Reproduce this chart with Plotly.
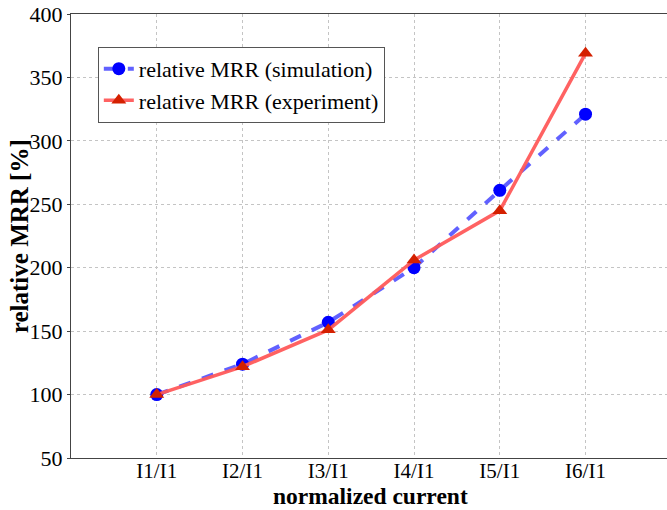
import plotly.graph_objects as go

categories = ["I1/I1", "I2/I1", "I3/I1", "I4/I1", "I5/I1", "I6/I1"]
x_pos = [1, 2, 3, 4, 5, 6]
simulation = [100, 124, 157, 200, 261, 321]
experiment = [100, 122, 151, 206, 245, 369]
y_ticks = [50, 100, 150, 200, 250, 300, 350, 400]

fig = go.Figure()
fig.add_trace(go.Scatter(
    x=x_pos, y=simulation, mode="lines+markers",
    name="relative MRR (simulation)",
    line=dict(color="rgba(80,80,255,0.9)", width=4, dash="dash"),
    marker=dict(color="#0000ff", size=13, symbol="circle"),
))
fig.add_trace(go.Scatter(
    x=x_pos, y=experiment, mode="lines+markers",
    name="relative MRR (experiment)",
    line=dict(color="rgba(255,90,90,0.95)", width=3.5),
    marker=dict(color="#d42000", size=13, symbol="triangle-up"),
))

font_family = "Liberation Serif"
fig.update_layout(
    width=667, height=510,
    margin=dict(l=71, r=0, t=14, b=52),
    paper_bgcolor="white", plot_bgcolor="white",
    font=dict(family=font_family, size=22, color="black"),
    showlegend=True,
    legend=dict(
        x=0.045, y=0.926, xanchor="left", yanchor="top",
        bgcolor="white", bordercolor="#555555", borderwidth=1,
        font=dict(family=font_family, size=22, color="black"),
        tracegroupgap=0,
    ),
    annotations=[
        dict(text="<b>normalized current</b>", xref="paper", yref="paper",
             x=0.502, y=-0.1165, xanchor="center", yanchor="bottom", borderpad=0,
             showarrow=False, font=dict(family=font_family, size=23.5, color="black")),
        dict(text="<b>relative MRR [%]</b>", xref="paper", yref="paper",
             x=-0.087, y=0.5, xanchor="center", yanchor="middle", textangle=-90,
             showarrow=False, font=dict(family=font_family, size=25, color="black")),
    ],
)
fig.update_xaxes(
    range=[0, 6.95], tickvals=x_pos, ticktext=categories,
    showgrid=True, gridcolor="#c4c4c4", griddash="dot", gridwidth=1,
    showline=True, linecolor="#444444", linewidth=1, mirror=True,
    ticks="", zeroline=False, ticklabelstandoff=-6,
    tickfont=dict(family=font_family, size=21),
)
fig.update_yaxes(
    range=[50, 400], tickvals=y_ticks,
    showgrid=True, gridcolor="#c4c4c4", griddash="dot", gridwidth=1,
    showline=True, linecolor="#444444", linewidth=1, mirror=True,
    ticks="outside", ticklen=3, tickcolor="#444444", zeroline=False,
    tickfont=dict(family=font_family, size=22),
)

fig.write_html("out.html")
